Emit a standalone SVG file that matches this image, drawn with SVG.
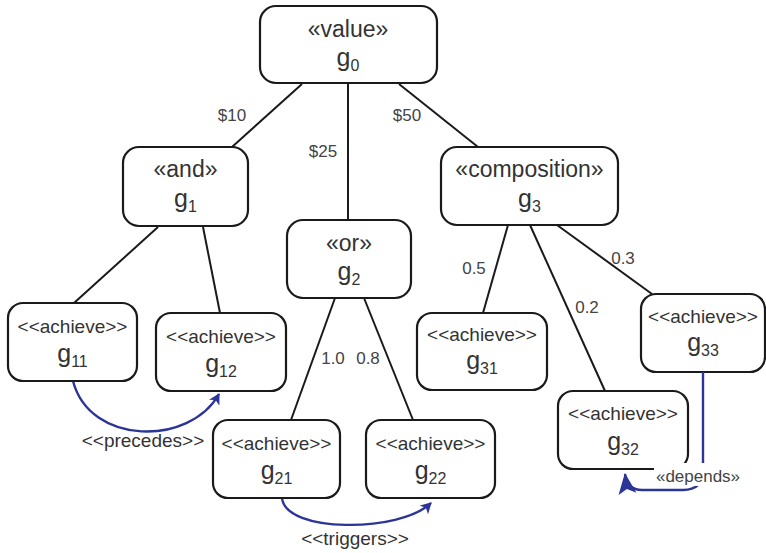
<svg xmlns="http://www.w3.org/2000/svg" width="766" height="553" viewBox="0 0 766 553">
<style>
.node{fill:#fff;stroke:#1a1a1a;stroke-width:2.2}
.st{font-family:"Liberation Sans",Arial,sans-serif;font-size:23px;fill:#333;text-anchor:middle}
.ach{font-family:"Liberation Sans",Arial,sans-serif;font-size:19px;fill:#333;text-anchor:middle}
.g{font-family:"Liberation Sans",Arial,sans-serif;font-size:25px;fill:#333;text-anchor:middle}
.sub{font-size:16px}
.edge{stroke:#1a1a1a;stroke-width:2;fill:none}
.rel{stroke:#2b3497;stroke-width:2.4;fill:none}
.lbl{font-family:"Liberation Sans",Arial,sans-serif;font-size:17px;fill:#444;text-anchor:middle}
.rl{font-family:"Liberation Sans",Arial,sans-serif;font-size:19px;fill:#333;text-anchor:middle}
</style>
<defs>
<marker id="ah" markerWidth="12" markerHeight="12" refX="10" refY="6" orient="auto" markerUnits="userSpaceOnUse">
<path d="M0,0 L11,6 L0,12 L3,6 Z" fill="#2b3497"/>
</marker>
<marker id="ahBig" markerWidth="22" markerHeight="20" refX="20" refY="9" orient="auto" markerUnits="userSpaceOnUse">
<path d="M0,0 L21,9 L0,18 L5,9 Z" fill="#2b3497"/>
</marker>
</defs>
<rect width="766" height="553" fill="#fff"/>
<g id="connectors">
<line class="edge" x1="302" y1="84" x2="232" y2="147"/>
<line class="edge" x1="348" y1="84" x2="348" y2="220"/>
<line class="edge" x1="399" y1="84" x2="478" y2="147"/>
<line class="edge" x1="158" y1="227" x2="74" y2="303"/>
<line class="edge" x1="203" y1="227" x2="220" y2="313"/>
<line class="edge" x1="335" y1="298" x2="291" y2="420"/>
<line class="edge" x1="364" y1="298" x2="413" y2="420"/>
<line class="edge" x1="508" y1="225" x2="483" y2="313"/>
<line class="edge" x1="530" y1="225" x2="605" y2="391"/>
<line class="edge" x1="557" y1="225" x2="652" y2="294"/>
<text class="lbl" x="232" y="121">$10</text>
<text class="lbl" x="323" y="157">$25</text>
<text class="lbl" x="407" y="121">$50</text>
<text class="lbl" x="333" y="364">1.0</text>
<text class="lbl" x="368" y="364">0.8</text>
<text class="lbl" x="474" y="274">0.5</text>
<text class="lbl" x="587" y="313">0.2</text>
<text class="lbl" x="623" y="264">0.3</text>
<path class="rel" d="M73,381 C90,446 190,446 219,394" marker-end="url(#ah)"/>
<path class="rel" d="M282,498 C285,533 400,533 431,503" marker-end="url(#ah)"/>
<text class="rl" x="143" y="447">&lt;&lt;precedes&gt;&gt;</text>
<text class="rl" x="355" y="545">&lt;&lt;triggers&gt;&gt;</text>
</g>
<g id="g0">
<rect class="node" x="260" y="6" width="177" height="77" rx="16"/>
<text class="st" x="348" y="37">«value»</text>
<text class="g" x="348" y="66">g<tspan class="sub" dy="5">0</tspan></text>
</g>
<g id="g1">
<rect class="node" x="123" y="147" width="125" height="79" rx="16"/>
<text class="st" x="185.5" y="177">«and»</text>
<text class="g" x="185.5" y="207">g<tspan class="sub" dy="5">1</tspan></text>
</g>
<g id="g2">
<rect class="node" x="287" y="220" width="124" height="78" rx="16"/>
<text class="st" x="349" y="251">«or»</text>
<text class="g" x="349" y="280">g<tspan class="sub" dy="5">2</tspan></text>
</g>
<g id="g3">
<rect class="node" x="441" y="147" width="177" height="78" rx="16"/>
<text class="st" x="529.5" y="177">«composition»</text>
<text class="g" x="529.5" y="207">g<tspan class="sub" dy="5">3</tspan></text>
</g>
<g id="g11">
<rect class="node" x="8" y="303" width="129" height="78" rx="15"/>
<text class="ach" x="72.5" y="333">&lt;&lt;achieve&gt;&gt;</text>
<text class="g" x="72.5" y="362">g<tspan class="sub" dy="5">11</tspan></text>
</g>
<g id="g12">
<rect class="node" x="156" y="313" width="130" height="78" rx="15"/>
<text class="ach" x="221" y="343">&lt;&lt;achieve&gt;&gt;</text>
<text class="g" x="221" y="372">g<tspan class="sub" dy="5">12</tspan></text>
</g>
<g id="g21">
<rect class="node" x="213" y="420" width="127" height="78" rx="15"/>
<text class="ach" x="276.5" y="450">&lt;&lt;achieve&gt;&gt;</text>
<text class="g" x="276.5" y="479">g<tspan class="sub" dy="5">21</tspan></text>
</g>
<g id="g22">
<rect class="node" x="366" y="420" width="129" height="78" rx="15"/>
<text class="ach" x="430.5" y="450">&lt;&lt;achieve&gt;&gt;</text>
<text class="g" x="430.5" y="479">g<tspan class="sub" dy="5">22</tspan></text>
</g>
<g id="g31">
<rect class="node" x="417" y="313" width="130" height="77" rx="15"/>
<text class="ach" x="482" y="341">&lt;&lt;achieve&gt;&gt;</text>
<text class="g" x="482" y="369">g<tspan class="sub" dy="5">31</tspan></text>
</g>
<g id="g32">
<rect class="node" x="558" y="391" width="130" height="78" rx="15"/>
<text class="ach" x="623" y="420">&lt;&lt;achieve&gt;&gt;</text>
<text class="g" x="623" y="450">g<tspan class="sub" dy="5">32</tspan></text>
</g>
<g id="g33">
<rect class="node" x="641" y="294" width="124" height="78" rx="15"/>
<text class="ach" x="703" y="323">&lt;&lt;achieve&gt;&gt;</text>
<text class="g" x="703" y="351">g<tspan class="sub" dy="5">33</tspan></text>
</g>
<g id="depends">
<path class="rel" d="M703,372 L703,470 Q703,490 683,490 L642,490 Q627,490 625,474" marker-end="url(#ahBig)"/>
<rect x="654" y="463" width="90" height="23" fill="#fff"/>
<text class="lbl" x="698" y="482">«depends»</text>
</g>
</svg>
